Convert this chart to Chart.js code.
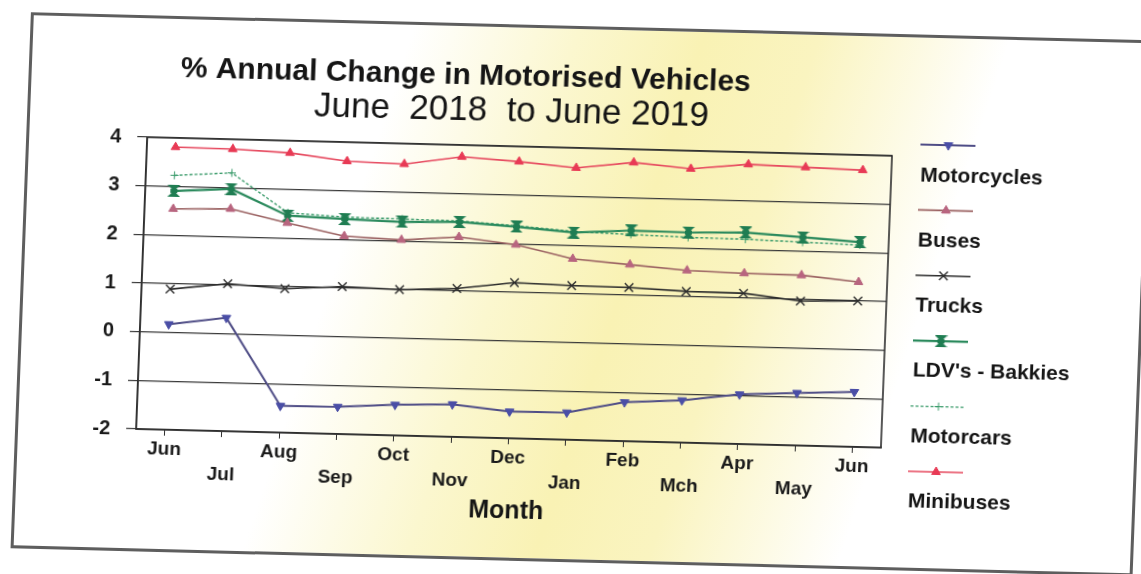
<!DOCTYPE html>
<html>
<head>
<meta charset="utf-8">
<title>% Annual Change in Motorised Vehicles</title>
<script src="https://cdn.jsdelivr.net/npm/chart.js@4.4.1/dist/chart.umd.min.js"></script>
<style>
  html, body { margin: 0; padding: 0; background: #fff; }
  body { width: 1141px; height: 574px; overflow: hidden; position: relative; }
  /* the scanned page is slightly rotated / sheared */
  #page {
    position: absolute; left: 0; top: 0; width: 1141px; height: 574px;
    transform-origin: 570px 287px;
    transform: matrix(1, 0.025, -0.038, 1, 0, 0);
  }
  #frame {
    position: absolute; left: 21px; top: 26px; width: 1122px; height: 536px;
    box-sizing: border-box; border: 3px solid #5e5e5e;
    background: linear-gradient(106deg, #fff 0%, #fff 30%, #fbf7cf 43%, #f9f2b4 53%, #faf4c0 62%, #fff 77%, #fff 100%);
  }
  #chart { position: absolute; left: 0; top: 0; }
</style>
</head>
<body>
<div id="page">
  <div id="frame"></div>
  <canvas id="chart" width="1141" height="574"></canvas>
</div>
<script>
// Данные диаграммы
const months = ['Jun', 'Jul', 'Aug', 'Sep', 'Oct', 'Nov', 'Dec', 'Jan', 'Feb', 'Mch', 'Apr', 'May', 'Jun'];

const motorcycles = [0.17, 0.33, -1.45, -1.44, -1.37, -1.33, -1.45, -1.44, -1.20, -1.13, -0.98, -0.92, -0.87];
const buses       = [2.54, 2.57, 2.31, 2.07, 2.02, 2.11, 1.98, 1.72, 1.63, 1.54, 1.51, 1.50, 1.39];
const trucks      = [0.89, 1.03, 0.96, 1.03, 1.00, 1.05, 1.20, 1.17, 1.16, 1.11, 1.10, 0.97, 1.00];
const ldvBakkies  = [2.91, 2.98, 2.46, 2.42, 2.39, 2.42, 2.35, 2.26, 2.33, 2.32, 2.35, 2.28, 2.21];
const motorcars   = [3.23, 3.31, 2.52, 2.46, 2.45, 2.44, 2.37, 2.28, 2.25, 2.22, 2.21, 2.18, 2.15];
const minibuses   = [3.81, 3.80, 3.75, 3.61, 3.58, 3.76, 3.69, 3.59, 3.73, 3.63, 3.75, 3.72, 3.69];

const yTicks = [-2, -1, 0, 1, 2, 3, 4];
const titleMain = '% Annual Change in Motorised Vehicles';
const titleSub = 'June  2018  to June 2019';
const xTitle = 'Month';

const FONT = '"Liberation Sans", Arial, Helvetica, sans-serif';
Chart.defaults.font.family = FONT;
Chart.defaults.color = '#1a1a1a';

// маркер "песочные часы" для LDV
function hourglass(color) {
  const c = document.createElement('canvas');
  c.width = 13; c.height = 12;
  const g = c.getContext('2d');
  g.fillStyle = color;
  g.beginPath();
  g.moveTo(0, 0); g.lineTo(13, 0); g.lineTo(0, 12); g.lineTo(13, 12); g.closePath();
  g.fill();
  g.fillRect(3, 4, 7, 4);
  return c;
}

// рамка графика, заголовки и легенда справа
const overlay = {
  id: 'overlay',
  beforeDatasetsDraw(chart) {
    const { ctx, chartArea: a } = chart;
    ctx.save();
    ctx.strokeStyle = '#2e2e2e';
    ctx.lineWidth = 1.6;
    ctx.strokeRect(a.left, a.top, a.right - a.left, a.bottom - a.top);
    ctx.restore();
  },
  afterDraw(chart) {
    const ctx = chart.ctx;
    ctx.save();
    ctx.fillStyle = '#151515';
    ctx.textAlign = 'center';
    ctx.textBaseline = 'middle';
    ctx.font = 'bold 30px ' + FONT;
    ctx.fillText(titleMain, 458, 79);
    ctx.font = '35px ' + FONT;
    ctx.fillText(titleSub, 505, 113);

    ctx.textAlign = 'left';
    ctx.font = 'bold 21px ' + FONT;
    chart.data.datasets.forEach((ds, i) => {
      const ys = 136 + i * 65.4;
      const yt = 167 + i * 65.2;
      ctx.save();
      ctx.strokeStyle = ds.borderColor;
      ctx.lineWidth = ds.borderWidth;
      ctx.setLineDash(ds.borderDash || []);
      ctx.beginPath();
      ctx.moveTo(915, ys);
      ctx.lineTo(970, ys);
      ctx.stroke();
      ctx.setLineDash([]);
      ctx.fillStyle = ds.pointBackgroundColor;
      ctx.strokeStyle = ds.pointBorderColor;
      ctx.lineWidth = ds.pointBorderWidth;
      Chart.helpers.drawPoint(ctx, {
        pointStyle: ds.pointStyle,
        radius: ds.pointRadius,
        rotation: ds.pointRotation || 0,
        borderWidth: ds.pointBorderWidth
      }, 943, ys);
      ctx.restore();
      ctx.fillStyle = '#151515';
      ctx.fillText(ds.label, 916, yt);
    });
    ctx.restore();
  }
};

function series(label, data, color, pointColor, extra) {
  return Object.assign({
    label: label,
    data: data,
    borderColor: color,
    backgroundColor: pointColor,
    pointBackgroundColor: pointColor,
    pointBorderColor: pointColor,
    pointBorderWidth: 1,
    pointRadius: 5,
    pointHoverRadius: 5,
    borderWidth: 1.6,
    tension: 0,
    fill: false
  }, extra || {});
}

const ctx = document.getElementById('chart').getContext('2d');
const chart = new Chart(ctx, {
  type: 'line',
  data: {
    labels: months,
    datasets: [
      series('Motorcycles', motorcycles, '#4f4d86', '#4a4ea6', { pointStyle: 'triangle', pointRotation: 180, borderWidth: 2 }),
      series('Buses', buses, '#9b6262', '#b8657f', { pointStyle: 'triangle' }),
      series('Trucks', trucks, '#2c2c2c', '#2c2c2c', { pointStyle: 'crossRot', pointBorderWidth: 1.4, pointRadius: 6 }),
      series("LDV's - Bakkies", ldvBakkies, '#2b8a5d', '#1f7d52', { pointStyle: hourglass('#1f7d52'), borderWidth: 2.2 }),
      series('Motorcars', motorcars, '#3c9c6c', '#3c9c6c', { pointStyle: 'cross', pointRadius: 4, borderWidth: 1.4, borderDash: [3, 2] }),
      series('Minibuses', minibuses, '#e6485e', '#e83a55', { pointStyle: 'triangle' })
    ]
  },
  options: {
    responsive: false,
    animation: false,
    events: [],
    layout: { padding: { left: 62, right: 254, top: 148, bottom: 46 } },
    plugins: {
      legend: { display: false },
      title: { display: false },
      tooltip: { enabled: false }
    },
    scales: {
      x: {
        offset: true,
        border: { color: '#2e2e2e', width: 1.6 },
        grid: { drawOnChartArea: false, drawTicks: true, tickLength: 6, color: '#2e2e2e', offset: false },
        ticks: {
          autoSkip: false,
          maxRotation: 0,
          padding: 2,
          color: '#1a1a1a',
          font: { size: 19, weight: 'bold', lineHeight: '24px' },
          callback: function (value, index) {
            const m = this.getLabelForValue(value);
            return index % 2 === 0 ? [m] : ['', m];
          }
        },
        title: {
          display: true,
          text: xTitle,
          color: '#151515',
          font: { size: 25, weight: 'bold' },
          padding: { top: 0, bottom: 0 }
        }
      },
      y: {
        min: -2,
        max: 4,
        afterFit: (s) => { s.width = 80; },
        border: { color: '#2e2e2e', width: 1.6 },
        grid: {
          tickLength: 10,
          lineWidth: 1.2,
          color: (c) => (c.tick && Number.isInteger(c.tick.value)) ? '#3a3a3a' : 'rgba(0,0,0,0)',
          tickColor: '#3a3a3a'
        },
        ticks: {
          stepSize: 0.5,
          padding: 16,
          color: '#1a1a1a',
          font: { size: 20, weight: 'bold' },
          callback: (v) => yTicks.includes(v) ? String(v) : ''
        }
      }
    }
  },
  plugins: [overlay]
});
</script>
</body>
</html>
